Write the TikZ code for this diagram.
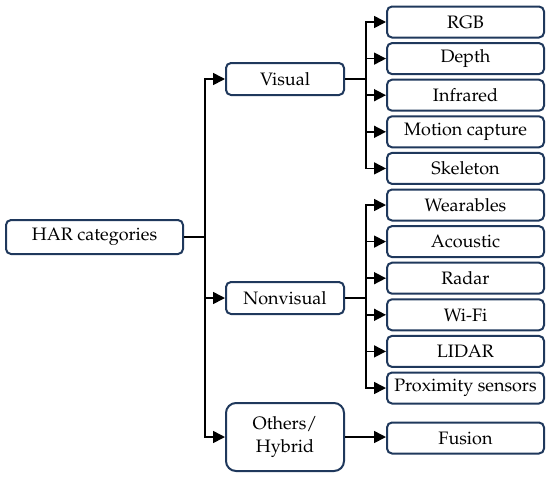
\documentclass[tikz,border=0pt]{standalone}
\usepackage[T1]{fontenc}
\usepackage{mathpazo}
\usepackage{tikz}
\usetikzlibrary{positioning,calc,arrows.meta}
\usepackage{xcolor}
\definecolor{boxnavy}{RGB}{31,56,92}

\tikzset{
  catbox/.style={rectangle,draw=boxnavy,line width=1pt,rounded corners=2.5pt,align=center,
    font=\fontsize{9}{11.5}\selectfont,inner sep=0pt},
  leafbox/.style={catbox,minimum width=78.5pt,minimum height=15.5pt},
  midbox/.style={catbox,minimum width=59pt,minimum height=16pt},
  arr/.style={line width=0.8pt,-{Triangle[length=6pt,width=6pt]}}
}

\begin{document}
\begin{tikzpicture}[x=0.5pt,y=-0.5pt]
\useasboundingbox (0,0) rectangle (550,477);
\node[catbox,minimum width=88.5pt,minimum height=17pt] (har) at (94.5,237) {HAR categories};
\node[midbox] (visual) at (285,79) {Visual};
\node[midbox] (nonvisual) at (285,298) {Nonvisual};
\node[midbox,minimum height=34pt,rounded corners=5pt] (others) at (285,437) {Others/\\Hybrid};
% leaves
\foreach \n/\txt [count=\k from 0] in {rgb/RGB,depth/Depth,infrared/Infrared,mocap/Motion capture,skeleton/Skeleton,
    wearables/Wearables,acoustic/Acoustic,radar/Radar,wifi/Wi-Fi,lidar/LIDAR,proximity/Proximity sensors} {
    \node[leafbox] (\n) at (465.5,{22+36.6*\k}) {\txt};
}
\node[leafbox] (fusion) at (465.5,438) {Fusion};
% connectors
\foreach \m in {visual,nonvisual,others} {
    \draw[arr] (har.east) -- ++(21,0) |- (\m.west);
}
\foreach \n in {rgb,depth,infrared,mocap,skeleton} {
    \draw[arr] (visual.east) -- ++(21,0) |- (\n.west);
}
\foreach \n in {wearables,acoustic,radar,wifi,lidar,proximity} {
    \draw[arr] (nonvisual.east) -- ++(21,0) |- (\n.west);
}
\draw[arr] (others.east) -- (others.east -| fusion.west);
\end{tikzpicture}
\end{document}
